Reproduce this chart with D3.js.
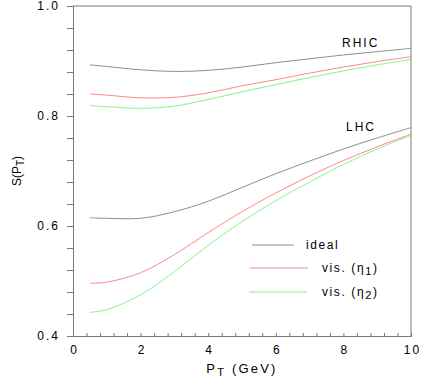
<!DOCTYPE html>
<html>
<head>
<meta charset="utf-8">
<script src="https://cdn.jsdelivr.net/npm/d3@7"></script>
<style>
  body { margin: 0; background: #fff; }
  text { font-family: "Liberation Sans", Arial, sans-serif; fill: #000; }
</style>
</head>
<body>
<div class="container"></div>
<script>
var ptValues = [0.5, 1, 2, 3, 4, 5, 6, 7, 8, 9, 10];

var rhicIdeal = [0.893, 0.890, 0.884, 0.881, 0.883, 0.889, 0.897, 0.904, 0.911, 0.917, 0.923];
var rhicVis1  = [0.840, 0.838, 0.833, 0.834, 0.842, 0.855, 0.866, 0.878, 0.889, 0.899, 0.908];
var rhicVis2  = [0.819, 0.817, 0.814, 0.818, 0.830, 0.844, 0.857, 0.870, 0.882, 0.893, 0.903];

var lhcIdeal = [0.615, 0.614, 0.614, 0.626, 0.645, 0.670, 0.695, 0.718, 0.740, 0.760, 0.779];
var lhcVis1  = [0.496, 0.498, 0.515, 0.548, 0.588, 0.626, 0.660, 0.691, 0.719, 0.744, 0.767];
var lhcVis2  = [0.443, 0.448, 0.475, 0.517, 0.565, 0.608, 0.646, 0.680, 0.712, 0.740, 0.765];

var xTickLabels = [0, 2, 4, 6, 8, 10];
var yTickLabels = [0.4, 0.6, 0.8, 1.0];

const WIDTH = 436;
const HEIGHT = 382;
const LEFT = 73, RIGHT = 411, TOP = 6, BOTTOM = 336;

var colors = { ideal: "#8f8f8f", vis1: "#ff8585", vis2: "#85f585" };
var axisColor = "#7a7a7a";

var svg = d3.select('.container').append('svg')
  .attr('width', WIDTH)
  .attr('height', HEIGHT);

var xScale = d3.scaleLinear().domain([0, 10]).range([LEFT, RIGHT]);
var yScale = d3.scaleLinear().domain([0.4, 1.0]).range([BOTTOM, TOP]);

var isMajor = function (v, list) {
  return list.some(function (m) { return Math.abs(m - v) < 1e-6; });
};

// y axis, ticks every 0.04
var yTicks = d3.range(0, 16).map(function (i) { return +(0.4 + i * 0.04).toFixed(2); });
var yAxis = d3.axisLeft(yScale)
  .tickValues(yTicks)
  .tickSize(6)
  .tickPadding(7)
  .tickFormat(function (d) { return isMajor(d, yTickLabels) ? d3.format(".1f")(d) : ""; });

var gy = svg.append('g').attr('transform', 'translate(' + LEFT + ',0)').call(yAxis);
gy.select('.domain').attr('stroke', axisColor);
gy.selectAll('.tick line').attr('stroke', axisColor);
gy.selectAll('.tick text')
  .style('font-size', '12px')
  .style('letter-spacing', '2px')
  .attr('font-family', null);

// x axis, ticks every 0.4 pointing inward
var xTicks = d3.range(0, 26).map(function (i) { return +(i * 0.4).toFixed(1); });
var xAxis = d3.axisBottom(xScale)
  .tickValues(xTicks)
  .tickSize(-3)
  .tickPadding(9)
  .tickFormat(function (d) { return isMajor(d, xTickLabels) ? d : ""; });

var gx = svg.append('g').attr('transform', 'translate(0,' + BOTTOM + ')').call(xAxis);
gx.select('.domain').attr('stroke', axisColor);
gx.selectAll('.tick line').attr('stroke', axisColor);
gx.selectAll('.tick text')
  .style('font-size', '12px')
  .style('letter-spacing', '2px')
  .attr('dx', 1)
  .attr('font-family', null);

// frame top and right
svg.append('path')
  .attr('d', 'M' + LEFT + ',' + TOP + 'H' + RIGHT + 'V' + BOTTOM)
  .attr('fill', 'none')
  .attr('stroke', axisColor);

// curves
var line = d3.line()
  .x(function (d) { return xScale(d[0]); })
  .y(function (d) { return yScale(d[1]); })
  .curve(d3.curveCatmullRom);

var curves = [
  { values: rhicIdeal, color: colors.ideal },
  { values: rhicVis1, color: colors.vis1 },
  { values: rhicVis2, color: colors.vis2 },
  { values: lhcIdeal, color: colors.ideal },
  { values: lhcVis1, color: colors.vis1 },
  { values: lhcVis2, color: colors.vis2 }
];

svg.append('g').selectAll('path')
  .data(curves)
  .enter().append('path')
  .attr('d', function (c) { return line(ptValues.map(function (p, i) { return [p, c.values[i]]; })); })
  .attr('fill', 'none')
  .attr('stroke', function (c) { return c.color; })
  .attr('stroke-width', 1);

// curve group labels
svg.append('text').attr('x', 342).attr('y', 47)
  .style('font-size', '12px').style('letter-spacing', '2px').text('RHIC');
svg.append('text').attr('x', 346).attr('y', 131)
  .style('font-size', '12px').style('letter-spacing', '2px').text('LHC');

// legend
var legend = [
  { x1: 252, x2: 294, tx: 306, y: 245, color: colors.ideal, label: 'ideal', sub: '' },
  { x1: 250, x2: 308, tx: 322, y: 268, color: colors.vis1, label: 'vis. (\u03b7', sub: '1' },
  { x1: 249, x2: 307, tx: 322, y: 292, color: colors.vis2, label: 'vis. (\u03b7', sub: '2' }
];

legend.forEach(function (l) {
  svg.append('line')
    .attr('x1', l.x1).attr('x2', l.x2)
    .attr('y1', l.y).attr('y2', l.y)
    .attr('stroke', l.color);
  var t = svg.append('text')
    .attr('x', l.tx).attr('y', l.y + 4)
    .style('font-size', '12px')
    .style('letter-spacing', '1.6px');
  t.append('tspan').text(l.label);
  if (l.sub) {
    t.append('tspan').attr('dy', 3).style('font-size', '11px').text(l.sub);
    t.append('tspan').attr('dy', -3).text(')');
  }
});

// axis titles
var xt = svg.append('text')
  .attr('x', 242).attr('y', 373)
  .attr('text-anchor', 'middle')
  .style('font-size', '13px')
  .style('letter-spacing', '2.2px');
xt.append('tspan').text('P');
xt.append('tspan').attr('dy', 3).style('font-size', '11px').text('T');
xt.append('tspan').attr('dy', -3).text(' (GeV)');

var yt = svg.append('text')
  .attr('transform', 'translate(21,171) rotate(-90)')
  .attr('text-anchor', 'middle')
  .style('font-size', '12px');
yt.append('tspan').text('S(P');
yt.append('tspan').attr('dy', 3).style('font-size', '10px').text('T');
yt.append('tspan').attr('dy', -3).text(')');
</script>
</body>
</html>
